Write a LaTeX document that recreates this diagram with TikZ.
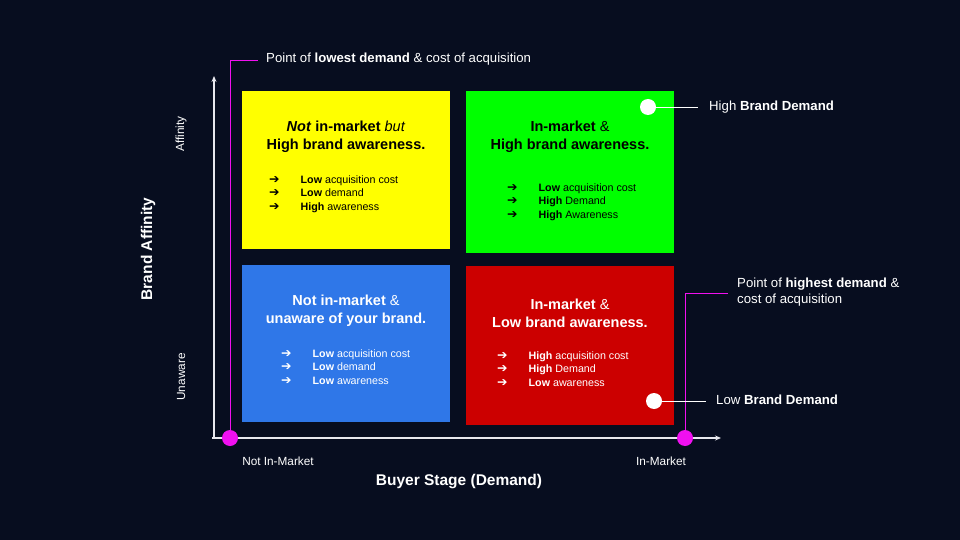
\documentclass[tikz,border=0pt]{standalone}
\usepackage{fontspec}
\setmainfont{Liberation Sans}
\newfontfamily\dv{DejaVu Sans}
\usetikzlibrary{arrows.meta}
\definecolor{bg}{HTML}{070D1F}
\definecolor{qyellow}{HTML}{FFFF00}
\definecolor{qgreen}{HTML}{00FF00}
\definecolor{qblue}{HTML}{2F77E8}
\definecolor{qred}{HTML}{CC0000}
\definecolor{mag}{HTML}{F010F0}
\definecolor{axisc}{HTML}{E8E8EE}
\newcommand{\arr}{{\dv\bfseries\fontsize{12.5}{12.5}\selectfont\char"2794}}
\newcommand{\blist}[3]{\begin{tabular}{@{}l@{\hspace{21pt}}l@{}}\arr & #1\\ \arr & #2\\ \arr & #3\end{tabular}}
\begin{document}
\begin{tikzpicture}[x=1pt,y=-1pt,
  ttl/.style={align=center,font=\fontsize{14.5}{18}\selectfont\bfseries,inner sep=0},
  bl/.style={anchor=west,inner sep=0,font=\fontsize{10.7}{13.5}\selectfont},
  lbl/.style={text=white,inner sep=0,font=\fontsize{13.2}{16.5}\selectfont},
  small/.style={text=white,inner sep=0,font=\fontsize{11.8}{14}\selectfont},
  axt/.style={text=white,inner sep=0,font=\fontsize{15.5}{18}\selectfont\bfseries},
  mdot/.style={circle,fill=mag,minimum size=16pt,inner sep=0},
  wdot/.style={circle,fill=white,minimum size=16pt,inner sep=0},
  axis/.style={draw=axisc,line width=1.2pt,-{Stealth[length=6pt,width=5pt]}},
  mline/.style={draw=mag,line width=0.8pt},
  wline/.style={draw=white,line width=0.9pt}]
\fill[bg] (0,0) rectangle (960,540);
\useasboundingbox (0,0) rectangle (960,540);

% quadrants
\fill[qyellow] (242,91) rectangle (450,249);
\fill[qgreen] (466,91) rectangle (674,253);
\fill[qblue] (242,265) rectangle (450,422);
\fill[qred] (466,266) rectangle (674,425);

% axes
\coordinate (o1) at (214,438);
\coordinate (ytop) at (214,76);
\coordinate (o2) at (212,438);
\coordinate (xend) at (721,438);
\draw[axis] (o1) -- (ytop);
\draw[axis] (o2) -- (xend);

% magenta markers
\node[mdot] (m1) at (230,438) {};
\node[mdot] (m2) at (685,438) {};
\coordinate (m1c) at (230,60);
\coordinate (m1e) at (258,60);
\coordinate (m2c) at (685,293);
\coordinate (m2e) at (728,293);
\draw[mline] (m1) -- (m1c) -- (m1e);
\draw[mline] (m2) -- (m2c) -- (m2e);
\node[lbl,anchor=west] (lowpt) at (266,59) {Point of \textbf{lowest demand} \& cost of acquisition};
\node[lbl,anchor=west,align=left] (highpt) at (737,292) {Point of \textbf{highest demand} \&\\cost of acquisition};

% white markers
\node[wdot] (w1) at (648,107) {};
\node[wdot] (w2) at (654,401) {};
\node[lbl,anchor=west] (hbd) at (709,107) {High \textbf{Brand Demand}};
\node[lbl,anchor=west] (lbd) at (716,400) {Low \textbf{Brand Demand}};
\coordinate (w1e) at (698,107);
\coordinate (w2e) at (706,401);
\draw[wline] (w1) -- (w1e);
\draw[wline] (w2) -- (w2e);

% yellow
\node[ttl,text=black] (yt) at (346,137) {\textit{Not} in-market \textmd{\textit{but}}\\High brand awareness.};
\node[bl,text=black] (yb) at (269,194) {\blist{\textbf{Low} acquisition cost}{\textbf{Low} demand}{\textbf{High} awareness}};

% green
\node[ttl,text=black] (gt) at (570,137) {In-market \textmd{\&}\\High brand awareness.};
\node[bl,text=black] (gb) at (507,202) {\blist{\textbf{Low} acquisition cost}{\textbf{High} Demand}{\textbf{High} Awareness}};

% blue
\node[ttl,text=white] (bt) at (346,311) {Not in-market \textmd{\&}\\unaware of your brand.};
\node[bl,text=white] (bb) at (281,368) {\blist{\textbf{Low} acquisition cost}{\textbf{Low} demand}{\textbf{Low} awareness}};

% red
\node[ttl,text=white] (rt) at (570,313) {In-market \textmd{\&}\\Low brand awareness.};
\node[bl,text=white] (rb) at (497,370) {\blist{\textbf{High} acquisition cost}{\textbf{High} Demand}{\textbf{Low} awareness}};

% axis labels
\node[axt,rotate=90] (ba) at (148,249) {Brand Affinity};
\node[small,rotate=90] (aff) at (181,134) {Affinity};
\node[small,rotate=90] (una) at (181,377) {Unaware};
\node[small] (nim) at (278,461) {Not In-Market};
\node[small] (im) at (661,461) {In-Market};
\node[axt] (bs) at (459,482) {Buyer Stage (Demand)};
\end{tikzpicture}
\end{document}
